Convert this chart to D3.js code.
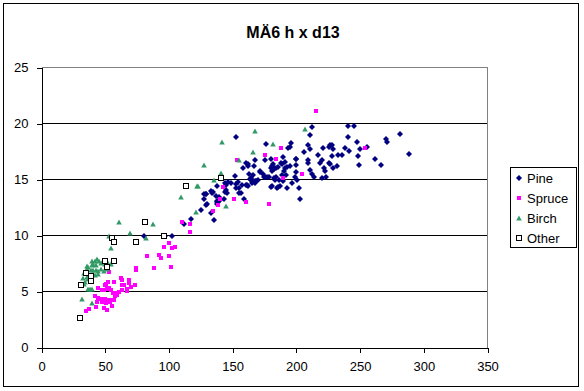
<!DOCTYPE html>
<html>
<head>
<meta charset="utf-8">
<script src="https://cdn.jsdelivr.net/npm/d3@7"></script>
<style>
  body { margin: 0; background: #fff; }
  text { font-family: Arial, "Liberation Sans", sans-serif; fill: #000; }
</style>
</head>
<body>
<script>
// chart data: [d13 (x), h (y)]
let title = 'MÄ6 h x d13';
let seriesNames = ['Pine', 'Spruce', 'Birch', 'Other'];
let xTicks = [0, 50, 100, 150, 200, 250, 300, 350];
let yTicks = [0, 5, 10, 15, 20, 25];

let pine = [
  [153,18.8],[176,18.2],[212,19.7],[240.2,19.75],[244.9,19.8],[281.7,19.1],[211,19.0],[240.2,18.8],
  [270.7,18.65],[271,18.35],[195.5,18.3],[194.8,17.9],[193.4,17.8],[208.9,18.1],[210.4,17.7],[226.1,18.1],
  [228.2,18.1],[225.5,17.9],[228.7,17.7],[220.8,17.8],[247.8,18.35],[237.8,17.8],[241.7,17.55],[249.6,17.7],
  [255.6,17.9],[288.5,17.3],[206.3,17.5],[217.2,17.2],[228.2,17.1],[232.6,17.2],[236,17.2],[248.5,17.1],
  [200,16.8],[208.9,16.7],[208.9,16.5],[218.8,16.5],[220.1,16.7],[225.3,16.5],[226.1,16.35],[231.8,16.25],
  [262.1,16.8],[266.6,16.3],[248.8,16.3],[228.7,16.0],[221.4,16.0],[222.7,15.8],[189.5,17.0],[191.4,16.55],
  [188.7,16.4],[181.7,16.4],[181.2,16.2],[179.9,16.0],[200,16.3],[199.5,15.7],[190,15.75],[189,15.4],
  [191.6,15.4],[194.8,16.2],[211,15.85],[212,15.45],[213.6,15.2],[220.1,15.1],[223,15.2],[199.2,15.2],
  [200.5,15.0],[196.9,14.7],[184.3,15.2],[183,15.0],[193,14.25],[187,14.4],[184.8,14.25],[202.3,14.25],
  [202.6,13.3],[162.4,16.35],[160.8,16.5],[167.9,16.7],[175,16.7],[180.1,16.8],[181,16.1],[180.7,15.8],
  [182.2,16.0],[184.3,16.0],[158,16.0],[171.3,15.75],[173.9,15.5],[177.3,15.2],[175.2,15.25],[178.5,15.25],
  [162.9,15.5],[166,15.4],[151.9,15.3],[179.9,14.3],[181.2,14.4],[164.7,15.1],[164.2,14.95],[168.7,14.85],
  [167.3,14.7],[165.2,14.7],[161.6,14.55],[157.2,14.5],[154,14.8],[149.1,14.7],[146,14.8],[143.9,14.7],
  [138.1,14.4],[153,14.2],[156.9,13.75],[144.6,14.1],[145.7,13.8],[143.6,13.3],[134.7,13.9],[133.4,14.0],
  [129,13.7],[139.4,13.45],[138.1,13.05],[139.9,13.15],[137.4,13.0],[127.4,13.25],[130,12.85],[129,12.75],
  [159,13.25],[154.8,13.8],[124.8,12.3],[132.7,12.0],[117,11.5],[135.5,11.4],[185.6,14.35],[162.1,16.2],
  [166.8,16.25],[182.2,15.9],[185.6,16.1],[188.3,16.5],[192.6,16.1],[191.4,16.0],[199.7,16.8],[186.4,15.0],
  [189.5,14.9],[182.8,15.1],[171.8,15.65],[174.6,15.25],[170,15.0],[168.1,14.9],[163.9,15.05],[166.6,14.9],
  [162.4,14.45],[160.8,14.5],[152.5,14.6],[144.4,14.55],[143.9,13.9],[155,14.2],[133.9,13.8],[136.8,13.55],
  [138.6,13.0],[137.4,12.8],[128.7,13.7],[111.7,11.0],[127.2,13.7],[80.7,9.95],[102.1,9.95],[96.6,9.95]
];

let spruce = [
  [215.4,21.1],[188,17.8],[175.4,17.2],[184,16.8],[153.6,16.75],[253.7,17.8],[204.4,15.45],[189.5,15.1],
  [142.5,14.3],[151.1,13.3],[160.5,12.95],[178.3,12.85],[140,13.3],[138.6,12.7],[134.7,12.2],[110.4,11.25],
  [116.7,11.0],[116.7,10.35],[96.3,9.0],[100.2,9.3],[102.6,8.85],[104.5,9.0],[92.3,8.3],[93.6,7.95],
  [99.7,8.2],[83,8.15],[88.5,7.14],[101.8,7.15],[74.4,7.1],[74.4,6.93],[53.3,6.7],[62.6,6.25],
  [63.4,6.04],[68.9,6.0],[68.9,5.77],[56.7,5.86],[52.5,5.86],[50.9,5.68],[49.9,5.56],[73.4,5.56],
  [70.2,5.36],[66.9,5.18],[66.9,5.05],[63.4,5.59],[64.8,5.56],[44.6,5.27],[47.3,5.12],[49.3,5.12],
  [51.4,5.2],[53.3,5.27],[54.6,5.12],[56.1,4.88],[57.7,4.88],[59.3,4.82],[61.1,4.97],[63.4,5.12],
  [42.1,4.58],[44.2,4.46],[46.0,4.34],[47.8,4.34],[49.9,4.34],[52.0,4.28],[54.0,4.22],[56.7,4.22],
  [57.7,4.61],[59.3,4.67],[43.4,4.02],[47.3,4.07],[50.9,3.93],[54.0,4.07],[55.6,3.75],[42.8,3.6],
  [49.3,3.54],[51.4,3.39],[35.2,3.24],[37.6,3.42]
];

let birch = [
  [167.9,19.3],[206.5,19.5],[142,18.35],[182,18.15],[165.8,17.5],[154.8,16.7],[127.2,16.3],[140.7,15.55],
  [135,15.0],[121.9,14.45],[122.5,14.4],[109.4,13.4],[144.6,12.6],[121.1,12.1],[87.5,11.0],[60.8,11.2],
  [69.4,10.2],[81.8,9.75],[53.3,9.95],[54.8,8.85],[43.6,7.9],[42.1,7.7],[45.2,7.7],[46.7,7.55],
  [48.1,7.75],[39.7,7.7],[40.5,7.5],[39.5,7.35],[43.1,7.35],[35.5,7.3],[36.8,7.15],[36,7.05],
  [38.7,6.95],[40.8,6.9],[42.6,6.95],[44.6,6.85],[46.5,7.05],[49.1,6.85],[51.7,7.0],[54.8,7.45],
  [49.9,7.5],[52.5,7.55],[33.7,6.65],[35.8,6.75],[40.7,6.6],[42,6.5],[44.1,6.6],[32.9,6.2],
  [35.5,6.3],[36.8,6.1],[34.2,5.85],[33.2,5.7],[38.1,5.25],[39.5,5.2],[36.8,5.2],[31.6,4.3],[39.5,4.0]
];

let other = [
  [30.5,2.65],[31,5.55],[35.2,6.65],[38.9,6.35],[39.2,5.9],[50.1,7.7],[57.2,7.75],[51.4,7.15],
  [55.3,9.8],[56.9,9.4],[74.4,9.4],[81.5,11.2],[96.5,9.95],[113.2,14.45],[141.2,15.1]
];

let width = 584;
let height = 391;

let svg = d3.select('body').append('svg')
  .attr('width', width)
  .attr('height', height);

// chart frame
svg.append('rect')
  .attr('x', 3.5).attr('y', 3.5)
  .attr('width', 575).attr('height', 383)
  .attr('fill', '#fff').attr('stroke', '#000');

let x = d3.scaleLinear().domain([0, 350]).range([41.5, 487.5]);
let y = d3.scaleLinear().domain([0, 25]).range([347.5, 67.5]);

// gridlines
svg.append('g').selectAll('line')
  .data(yTicks.filter(d => d > 0 && d < 25))
  .enter().append('line')
  .attr('x1', x(0)).attr('x2', x(350))
  .attr('y1', d => y(d)).attr('y2', d => y(d))
  .attr('stroke', '#000')
  .attr('shape-rendering', 'crispEdges');

// plot area top / right border (grey)
svg.append('path')
  .attr('d', `M${x(0)},${y(25)}H${x(350)}V${y(0)}`)
  .attr('fill', 'none').attr('stroke', '#808080')
  .attr('shape-rendering', 'crispEdges');

// axes
let xAxis = d3.axisBottom(x).tickValues(xTicks).tickSize(5).tickSizeOuter(0).tickPadding(9);
let yAxis = d3.axisLeft(y).tickValues(yTicks).tickSize(5).tickSizeOuter(0).tickPadding(8);

let gx = svg.append('g').attr('transform', `translate(0,${y(0)})`).call(xAxis);
let gy = svg.append('g').attr('transform', `translate(${x(0)},0)`).call(yAxis);
[gx, gy].forEach(g => {
  g.selectAll('path, line').attr('stroke', '#000').attr('shape-rendering', 'crispEdges');
  g.selectAll('text').style('font-size', '13px').style('font-family', 'Arial, "Liberation Sans", sans-serif');
});

// marker shapes
let diamond = 'M0,-3L3,0L0,3L-3,0Z';
let triangle = 'M0,-2.5L2.8,2.5L-2.8,2.5Z';

let drawPine = (sel) => sel.append('path').attr('d', diamond).attr('fill', '#000080');
let drawSpruce = (sel) => sel.append('rect').attr('x', -2).attr('y', -2).attr('width', 4).attr('height', 4).attr('fill', '#ff00ff');
let drawBirch = (sel) => sel.append('path').attr('d', triangle).attr('fill', '#339966');
let drawOther = (sel) => sel.append('rect').attr('x', -2.5).attr('y', -2.5).attr('width', 5).attr('height', 5).attr('fill', '#fff').attr('stroke', '#000');

let series = [
  { name: seriesNames[0], data: pine, draw: drawPine },
  { name: seriesNames[1], data: spruce, draw: drawSpruce },
  { name: seriesNames[2], data: birch, draw: drawBirch },
  { name: seriesNames[3], data: other, draw: drawOther }
];

// points (last series on top, as Excel draws them)
series.forEach(s => {
  let pts = svg.append('g').selectAll('g')
    .data(s.data)
    .enter().append('g')
    .attr('transform', d => `translate(${Math.round(x(d[0]))},${Math.round(y(d[1]))})`);
  s.draw(pts);
});

// title
svg.append('text')
  .attr('x', 293).attr('y', 38)
  .attr('text-anchor', 'middle')
  .style('font-size', '16px').style('font-weight', 'bold')
  .text(title);

// legend
let legend = svg.append('g').attr('transform', 'translate(510,167)');
legend.append('rect')
  .attr('x', 0.5).attr('y', 0.5).attr('width', 66).attr('height', 80)
  .attr('fill', '#fff').attr('stroke', '#000');
series.forEach((s, i) => {
  let item = legend.append('g').attr('transform', `translate(9,${11 + i * 20})`);
  s.draw(item);
  item.append('text')
    .attr('x', 8).attr('y', 0).attr('dy', '0.35em')
    .style('font-size', '13px')
    .text(s.name);
});
</script>
</body>
</html>
